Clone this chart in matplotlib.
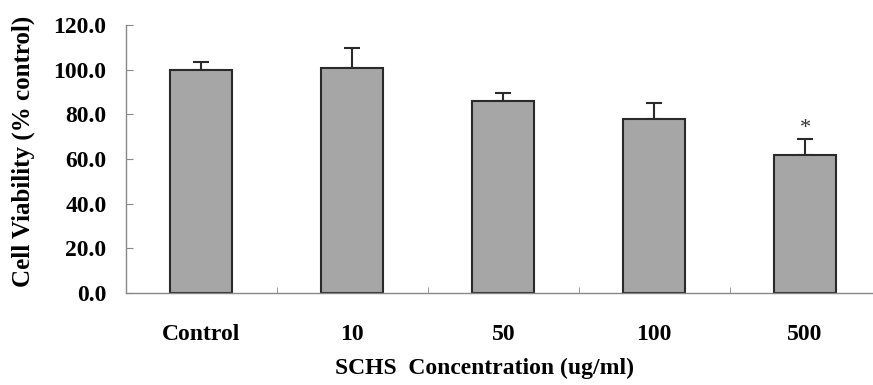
import numpy as np
import matplotlib.pyplot as plt

# Data
groups = ['Control', '10', '50', '100', '500']
viability = [100.0, 100.6, 86.1, 78.1, 61.8]
errors = [3.3, 9.0, 3.6, 7.1, 7.2]
significant = [False, False, False, False, True]

plt.rcParams['font.family'] = ['Liberation Serif', 'DejaVu Serif']
plt.rcParams['font.weight'] = 'bold'

fig = plt.figure(figsize=(8.73, 3.85), dpi=100)
ax = fig.add_axes([0.1443, 0.239, 0.8557, 0.696])

x = np.arange(len(groups))
ax.bar(x, viability, width=0.41, color='#a6a6a6', edgecolor='#2a2a2a', linewidth=1.5, zorder=2)
ax.errorbar(x, viability, yerr=[np.zeros(len(errors)), errors], fmt='none',
            ecolor='#2a2a2a', elinewidth=1.5, capsize=6, capthick=1.5, zorder=1)

for xi, v, e, s in zip(x, viability, errors, significant):
    if s:
        ax.text(xi, v + e + 0.5, '*', ha='center', va='bottom', fontsize=16,
                fontweight='normal', color='#333333')

ax.set_xlim(-0.5, 4.45)
ax.set_ylim(0, 120)
ax.set_yticks(np.arange(0, 121, 20))
ax.set_yticklabels([f'{t:.1f}' for t in np.arange(0, 121, 20)], fontsize=17, fontweight='bold')
ax.set_xticks(x)
ax.set_xticklabels(groups, fontsize=17, fontweight='bold')
ax.set_xticks(x[:-1] + 0.5, minor=True)
ax.tick_params(axis='x', which='major', length=0, pad=22)
ax.tick_params(axis='x', which='minor', direction='in', length=4, color='#888888')
ax.tick_params(axis='y', direction='in', length=5, color='#888888', pad=14)

for side in ['top', 'right']:
    ax.spines[side].set_visible(False)
for side in ['left', 'bottom']:
    ax.spines[side].set_color('#888888')
    ax.spines[side].set_linewidth(1.0)

ax.set_ylabel('Cell Viability (% control)', fontsize=18, fontweight='bold', va='center')
ax.yaxis.set_label_coords(-0.138, 0.53)
ax.set_xlabel('SCHS  Concentration (ug/ml)', fontsize=17, fontweight='bold', va='center')
ax.xaxis.set_label_coords(0.48, -0.28)

fig.savefig('out.png', dpi=100)
